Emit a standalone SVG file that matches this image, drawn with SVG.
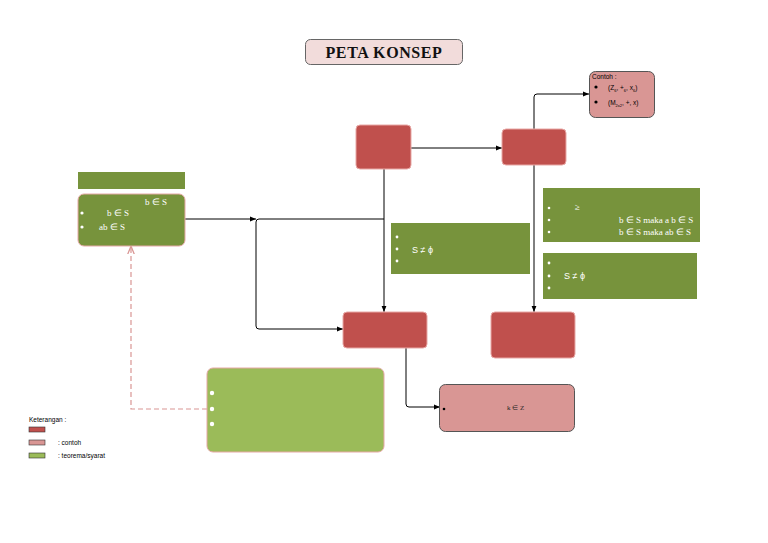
<svg xmlns="http://www.w3.org/2000/svg" width="768" height="543" viewBox="0 0 768 543">
<defs>
<style>
.red{fill:#c0504d;stroke:#e8a8a6;stroke-width:1}
.pink{fill:#d99694;stroke:#555;stroke-width:1}
.dg{fill:#77933c}
.lg{fill:#9bbb59;stroke:#e6a8a6;stroke-width:1}
.wt{fill:#fff;font-family:"Liberation Serif",serif;font-size:9px}
.ws{fill:#fff;font-family:"Liberation Sans",sans-serif;font-size:9px}
.dot{fill:#fff}
.ln{fill:none;stroke:#000;stroke-width:1}
.sm{font-family:"Liberation Sans",sans-serif;font-size:6.5px;fill:#000}
</style>
<marker id="ah" viewBox="0 0 10 10" refX="10" refY="5" markerWidth="6" markerHeight="6" orient="auto"><path d="M0,1 L10,5 L0,9 Z" fill="#000"/></marker>
<marker id="oh" viewBox="0 0 10 10" refX="10" refY="5" markerWidth="7" markerHeight="7" orient="auto"><path d="M0,1 L10,5 L0,9" fill="none" stroke="#d99694" stroke-width="1.5"/></marker>
</defs>
<rect width="768" height="543" fill="#fff"/>

<g id="title">
<rect x="305.5" y="39.5" width="157" height="25" rx="5" fill="#f2dcdb" stroke="#666"/>
<text x="384" y="57.5" text-anchor="middle" font-family="Liberation Serif,serif" font-weight="bold" font-size="16" letter-spacing="0.6" fill="#111">PETA KONSEP</text>
</g>

<g id="connectors">
<path class="ln" d="M411,148 H502" marker-end="url(#ah)"/>
<path class="ln" d="M534,129 V97 Q534,94 537,94 H589" marker-end="url(#ah)"/>
<path class="ln" d="M534,165 V312" marker-end="url(#ah)"/>
<path class="ln" d="M384,169 V312" marker-end="url(#ah)"/>
<path class="ln" d="M185,219 H256" marker-end="url(#ah)"/>
<path class="ln" d="M384,219 H259 Q256,219 256,222 V326 Q256,329 259,329 H343" marker-end="url(#ah)"/>
<path class="ln" d="M406,348 V404 Q406,407 409,407 H440" marker-end="url(#ah)"/>
<path d="M207,409 H131 V246" fill="none" stroke="#d99694" stroke-width="1.2" stroke-dasharray="5,3" marker-end="url(#oh)"/>
</g>

<g id="contoh">
<rect class="pink" x="589.5" y="71.5" width="65" height="46" rx="6"/>
<text x="592" y="79" font-family="Liberation Sans,sans-serif" font-size="6.5" fill="#000">Contoh :</text>
<circle cx="596" cy="87" r="1.6" fill="#000"/>
<text x="608" y="90" font-family="Liberation Sans,sans-serif" font-size="6.5" fill="#000">(Z<tspan font-size="4" dy="1.5">6</tspan><tspan dy="-1.5">, +</tspan><tspan font-size="4" dy="1.5">6</tspan><tspan dy="-1.5">, x</tspan><tspan font-size="4" dy="1.5">6</tspan><tspan dy="-1.5">)</tspan></text>
<circle cx="596" cy="102" r="1.6" fill="#000"/>
<text x="608" y="105" font-family="Liberation Sans,sans-serif" font-size="6.5" fill="#000">(M<tspan font-size="4" dy="1.5">2x2</tspan><tspan dy="-1.5">, +, x)</tspan></text>
</g>

<g id="node1"><rect class="red" x="356" y="125" width="55" height="44" rx="4"/></g>
<g id="node2"><rect class="red" x="502" y="129" width="64" height="36" rx="4"/></g>
<g id="node3"><rect class="red" x="343" y="312" width="84" height="36" rx="4"/></g>
<g id="node4"><rect class="red" x="491" y="312" width="84" height="46" rx="4"/></g>

<g id="header-left"><rect class="dg" x="78" y="172" width="107" height="17"/></g>

<g id="box-left">
<rect x="78" y="194" width="107" height="52" rx="6" fill="#77933c" stroke="#e6a8a6"/>
<text class="wt" x="145" y="205">b ∈ S</text>
<circle class="dot" cx="82" cy="213" r="1.6"/>
<text class="wt" x="107" y="216">b ∈ S</text>
<circle class="dot" cx="82" cy="227" r="1.6"/>
<text class="wt" x="99" y="230">ab ∈ S</text>
</g>

<g id="box-mid">
<rect class="dg" x="391" y="223" width="139" height="51"/>
<circle class="dot" cx="397" cy="237" r="1.4"/>
<circle class="dot" cx="397" cy="249" r="1.4"/>
<text class="ws" x="412" y="253">S ≠ ϕ</text>
<circle class="dot" cx="397" cy="261" r="1.4"/>
</g>

<g id="box-right1">
<rect class="dg" x="543" y="188" width="157" height="54"/>
<circle class="dot" cx="549" cy="208" r="1.3"/>
<text class="wt" x="575" y="210">≥</text>
<circle class="dot" cx="549" cy="220" r="1.3"/>
<text class="wt" x="619" y="223">b ∈ S maka a b ∈ S</text>
<circle class="dot" cx="549" cy="232" r="1.3"/>
<text class="wt" x="619" y="235">b ∈ S maka ab   ∈ S</text>
</g>

<g id="box-right2">
<rect class="dg" x="543" y="253" width="154" height="46"/>
<circle class="dot" cx="549" cy="263" r="1.4"/>
<circle class="dot" cx="549" cy="276" r="1.4"/>
<text class="ws" x="564" y="279">S ≠ ϕ</text>
<circle class="dot" cx="549" cy="288" r="1.4"/>
</g>

<g id="box-theorem">
<rect class="lg" x="207" y="368" width="177" height="84" rx="6"/>
<circle class="dot" cx="212" cy="393" r="2.2"/>
<circle class="dot" cx="212" cy="409" r="2.2"/>
<circle class="dot" cx="212" cy="424" r="2.2"/>
</g>

<g id="box-example">
<rect class="pink" x="439.5" y="384.5" width="135" height="47" rx="6"/>
<circle cx="444" cy="409" r="1.3" fill="#000"/>
<text x="507" y="410" font-family="Liberation Serif,serif" font-size="7" fill="#222">k ∈ Z</text>
</g>

<g id="legend">
<text class="sm" x="29" y="422">Keterangan :</text>
<rect x="29" y="427" width="16" height="5" fill="#c0504d" stroke="#333" stroke-width="0.6"/>
<rect x="29" y="440" width="16" height="5" fill="#d99694" stroke="#333" stroke-width="0.6"/>
<text class="sm" x="58" y="445">: contoh</text>
<rect x="29" y="453" width="16" height="5" fill="#9bbb59" stroke="#333" stroke-width="0.6"/>
<text class="sm" x="58" y="458">: teorema/syarat</text>
</g>
</svg>
